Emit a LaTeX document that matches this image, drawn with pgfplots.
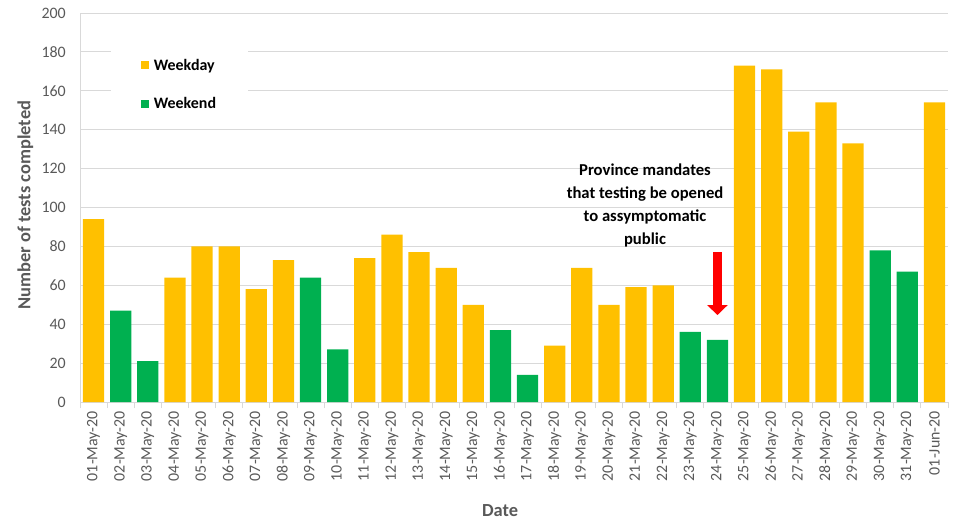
\documentclass[border=0pt]{standalone}
\usepackage{pgfplots}
\pgfplotsset{compat=1.18}
\usepackage{fontspec}
\setmainfont{Carlito}
\usetikzlibrary{arrows.meta}
\definecolor{wkday}{HTML}{FFC000}
\definecolor{wkend}{HTML}{00B050}
\definecolor{txtgray}{HTML}{595959}
\definecolor{gridgray}{HTML}{D9D9D9}
\begin{document}
\begin{tikzpicture}
\begin{axis}[
  scale only axis, width=868bp, height=389bp,
  xmin=-0.5, xmax=31.5, ymin=0, ymax=200,
  ytick={0,20,...,200},
  xtick={0,...,31},
  xticklabels={01-May-20,02-May-20,03-May-20,04-May-20,05-May-20,06-May-20,07-May-20,08-May-20,09-May-20,10-May-20,11-May-20,12-May-20,13-May-20,14-May-20,15-May-20,16-May-20,17-May-20,18-May-20,19-May-20,20-May-20,21-May-20,22-May-20,23-May-20,24-May-20,25-May-20,26-May-20,27-May-20,28-May-20,29-May-20,30-May-20,31-May-20,01-Jun-20},
  minor xtick={-0.5,0.5,...,31.5},
  major tick length=0pt,
  minor tick length=6bp,
  tick align=outside,
  minor x tick style={gridgray, line width=0.8bp},
  ymajorgrids, grid style={gridgray, line width=0.8bp},
  axis x line*=bottom, axis y line*=left,
  axis line style={gridgray, line width=0.8bp},
  /pgf/number format/assume math mode=true,
  ticklabel style={font=\fontsize{16}{16}\selectfont, text=txtgray},
  xticklabel style={rotate=90, anchor=east, inner sep=2bp, xshift=-7bp},
  yticklabel style={inner sep=2bp, xshift=-12bp},
  xlabel={Date},
  ylabel={Number of tests completed},
  label style={font=\bfseries\fontsize{18.5}{18.5}\selectfont, text=txtgray},
  xlabel style={at={(axis description cs:0.484,-0.278)}, anchor=center},
  ylabel style={at={(axis description cs:-0.063,0.506)}, anchor=center, rotate=0},
  legend style={at={(axis description cs:0.1146,0.816)}, anchor=center,
    draw=none, fill=white, inner xsep=30bp, inner ysep=14bp, row sep=22bp,
    font=\bfseries\fontsize{16}{16}\selectfont, legend cell align=left},
  legend image code/.code={\fill[#1] (0bp,-4bp) rectangle (8bp,4bp);},
]
\addplot[ybar, bar width=0.78, bar shift=0pt, fill=wkday, draw=none] coordinates {
(0,94) (3,64) (4,80) (5,80) (6,58) (7,73) (10,74) (11,86) (12,77) (13,69) (14,50)
(17,29) (18,69) (19,50) (20,59) (21,60) (24,173) (25,171) (26,139) (27,154) (28,133) (31,154)};
\addlegendentry{\hspace{3bp}Weekday}
\addplot[ybar, bar width=0.78, bar shift=0pt, fill=wkend, draw=none] coordinates {
(1,47) (2,21) (8,64) (9,27) (15,37) (16,14) (22,36) (23,32) (29,78) (30,67)};
\addlegendentry{\hspace{3bp}Weekend}
\node[align=center, font=\bfseries\fontsize{16.7}{23}\selectfont] at (axis cs:20.33,101)
  {Province mandates\\that testing be opened\\to assymptomatic\\public};
\draw[red, line width=9bp, -{Triangle[width=20bp,length=10bp]}] (axis cs:23,77) -- (axis cs:23,44.7);
\end{axis}
\pgfresetboundingbox
\path ([shift={(-80bp,-117bp)}]current axis.south west) rectangle ([shift={(7bp,13bp)}]current axis.north east);
\end{tikzpicture}
\end{document}
